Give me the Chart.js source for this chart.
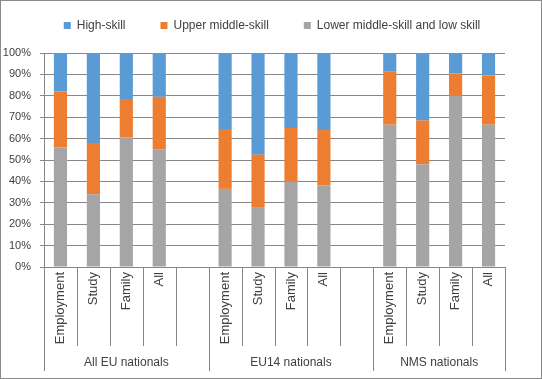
<!DOCTYPE html>
<html>
<head>
<meta charset="utf-8">
<script src="https://cdn.jsdelivr.net/npm/chart.js@4/dist/chart.umd.min.js"></script>
<style>
  html, body { margin: 0; padding: 0; background: #fff; }
  #wrap { width: 542px; height: 379px; position: relative; }
</style>
</head>
<body>
<div id="wrap"><canvas id="c" width="542" height="379"></canvas></div>
<script>
// ---- data ----
const categories = ['Employment', 'Study', 'Family', 'All', '',
                    'Employment', 'Study', 'Family', 'All', '',
                    'Employment', 'Study', 'Family', 'All'];
const groups = ['All EU nationals', 'EU14 nationals', 'NMS nationals'];
const groupSizes = [5, 5, 4];
const seriesNames = ['High-skill', 'Upper middle-skill', 'Lower middle-skill and low skill'];
const highSkill  = [18, 42, 21.5, 20.5, null, 35.5, 47.5, 35, 36, null, 8.5, 31.5, 9.5, 10.5];
const upperMid   = [26, 24, 18, 24.5, null, 28, 24.5, 25, 26, null, 25, 20.5, 10.5, 23];
const lowerLow   = [56, 34, 60.5, 55, null, 36.5, 28, 40, 38, null, 66.5, 48, 80, 66.5];
const yTicks = [0, 10, 20, 30, 40, 50, 60, 70, 80, 90, 100];

const FONT = "'Liberation Sans', Arial, sans-serif";
const TEXT = '#404040';
const GRID = '#878787';

Chart.defaults.font.family = FONT;
Chart.defaults.color = TEXT;

const decor = {
  id: 'decor',
  beforeLayout(chart) {
    const lg = chart.legend;
    if (lg && !lg._patched) {
      const orig = lg.fit;
      lg.fit = function () { orig.call(this); this.height = 53 + 15.5; };
      lg._patched = true;
    }
  },
  afterLayout(chart) {
    const lg = chart.legend;
    if (lg) { lg.left += 19.5; lg.right += 19.5; }
  },
  afterDraw(chart) {
    const ctx = chart.ctx;
    const xs = chart.scales.x;
    const n = categories.length;
    const w = (xs.right - xs.left) / n;
    const row1 = 346, row2 = 371;
    ctx.save();
    ctx.strokeStyle = GRID;
    ctx.lineWidth = 1;
    const bounds = [0];
    groupSizes.forEach(s => bounds.push(bounds[bounds.length - 1] + s));
    for (let i = 0; i <= n; i++) {
      const x = Math.round(xs.left + i * w) + 0.5;
      const isGroup = bounds.includes(i);
      ctx.beginPath();
      ctx.moveTo(x, xs.top);
      ctx.lineTo(x, isGroup ? row2 : row1);
      ctx.stroke();
    }
    ctx.fillStyle = TEXT;
    ctx.font = '12px ' + FONT;
    ctx.textAlign = 'center';
    ctx.textBaseline = 'middle';
    groups.forEach((g, gi) => {
      const x0 = xs.left + bounds[gi] * w;
      const x1 = xs.left + bounds[gi + 1] * w;
      ctx.fillText(g, (x0 + x1) / 2, 362.5);
    });
    ctx.strokeStyle = '#8a8a8a';
    ctx.strokeRect(0.5, 0.5, chart.width - 1, chart.height - 1);
    ctx.restore();
  }
};

new Chart(document.getElementById('c'), {
  type: 'bar',
  data: {
    labels: categories,
    datasets: [
      { label: seriesNames[2], data: lowerLow, backgroundColor: '#A5A5A5' },
      { label: seriesNames[1], data: upperMid, backgroundColor: '#ED7D31' },
      { label: seriesNames[0], data: highSkill, backgroundColor: '#5B9BD5' }
    ]
  },
  options: {
    responsive: false,
    animation: false,
    layout: { padding: { top: -15.5, left: 0, right: 37, bottom: 0 } },
    datasets: { bar: { categoryPercentage: 0.8, barPercentage: 0.5 } },
    plugins: {
      legend: {
        position: 'top',
        labels: {
          boxWidth: 7, boxHeight: 7, padding: 35,
          font: { size: 12, family: FONT }, color: TEXT,
          sort: (a, b) => b.datasetIndex - a.datasetIndex
        }
      },
      tooltip: { enabled: false }
    },
    scales: {
      x: {
        stacked: true,
        grid: { display: false, drawTicks: false },
        border: { display: true, color: GRID },
        ticks: {
          autoSkip: false, maxRotation: 90, minRotation: 90, padding: 5,
          font: { size: 13, family: FONT }, color: TEXT
        },
        afterFit(scale) { scale.height = 112; }
      },
      y: {
        stacked: true,
        min: 0, max: 100,
        afterBuildTicks(scale) { scale.ticks = yTicks.map(v => ({ value: v })); },
        grid: { color: GRID, tickLength: 4 },
        border: { display: true, color: GRID },
        ticks: {
          padding: 9,
          font: { size: 11, family: FONT }, color: TEXT,
          callback: v => v + '%'
        },
        afterFit(scale) { scale.width = 44; }
      }
    }
  },
  plugins: [decor]
});
</script>
</body>
</html>
